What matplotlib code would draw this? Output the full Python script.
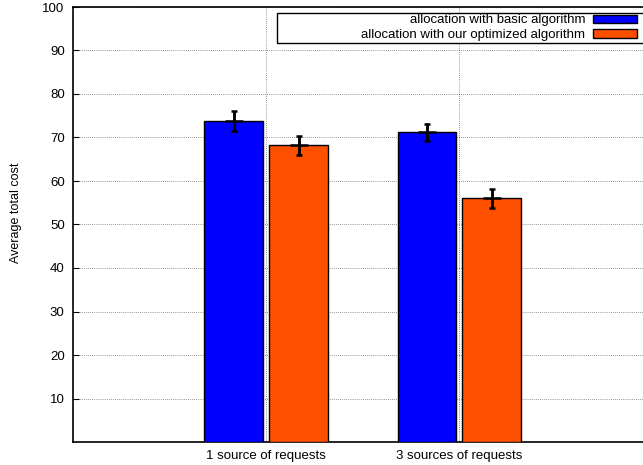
import numpy as np
import matplotlib.pyplot as plt
from matplotlib.patches import Rectangle

categories = ["1 source of requests", "3 sources of requests"]
basic = [73.7, 71.2]
basic_err = [2.3, 2.0]
optimized = [68.2, 56.0]
optimized_err = [2.2, 2.1]
labels = ["allocation with basic algorithm", "allocation with our optimized algorithm"]

plt.rcParams['font.family'] = ['Liberation Sans', 'DejaVu Sans']

fig = plt.figure(figsize=(6.43, 4.65), dpi=100)
ax = fig.add_axes([73/643, 23/465, 1 - 73/643, 435/465])

x = np.arange(1, len(categories) + 1)
w = 0.305
off = 0.168

ax.bar(x - off, basic, w, color="#0000ff", edgecolor="black", linewidth=1, label=labels[0], zorder=3)
ax.bar(x + off, optimized, w, color="#ff5000", edgecolor="black", linewidth=1, label=labels[1], zorder=3)

for xs, vals, errs in [(x - off, basic, basic_err), (x + off, optimized, optimized_err)]:
    ax.errorbar(xs, vals, yerr=errs, fmt='+', color='black', markersize=13, markeredgewidth=1.8,
                elinewidth=1.8, capsize=2, capthick=1.2, zorder=4)

ax.set_xlim(0, 2.95)
ax.set_ylim(0, 100)
ax.set_yticks(np.arange(10, 101, 10))
ax.set_xticks(x)
ax.set_xticklabels(categories)
ax.tick_params(axis='both', direction='in', length=4, labelsize=9.5, pad=6)
ax.tick_params(axis='x', length=0, pad=6)
ax.grid(True, color='black', linestyle=(0, (1, 2)), linewidth=0.5, alpha=0.8, zorder=0)
ax.set_ylabel("Average total cost", fontsize=9)
ax.yaxis.set_label_coords(-0.089, 0.526)

for s in ['top', 'bottom', 'left']:
    ax.spines[s].set_linewidth(1.2)
ax.spines['right'].set_visible(False)

# legend box as in gnuplot: wide frame, right aligned entries
ax.add_patch(Rectangle((0.358, 0.917), 0.7, 0.069, transform=ax.transAxes, facecolor='white',
                       edgecolor='black', linewidth=1.0, clip_on=False, zorder=5))
leg = ax.legend(loc='upper right', bbox_to_anchor=(0.99, 0.983), fontsize=9.5, markerfirst=False,
                frameon=False, borderpad=0, labelspacing=0.2,
                handlelength=3.35, handleheight=0.6, handletextpad=0.6, borderaxespad=0)
leg.set_zorder(6)
for t in leg.get_texts():
    t.set_ha('right')
leg._legend_box.align = "right"

fig.savefig("out.png", dpi=100)
